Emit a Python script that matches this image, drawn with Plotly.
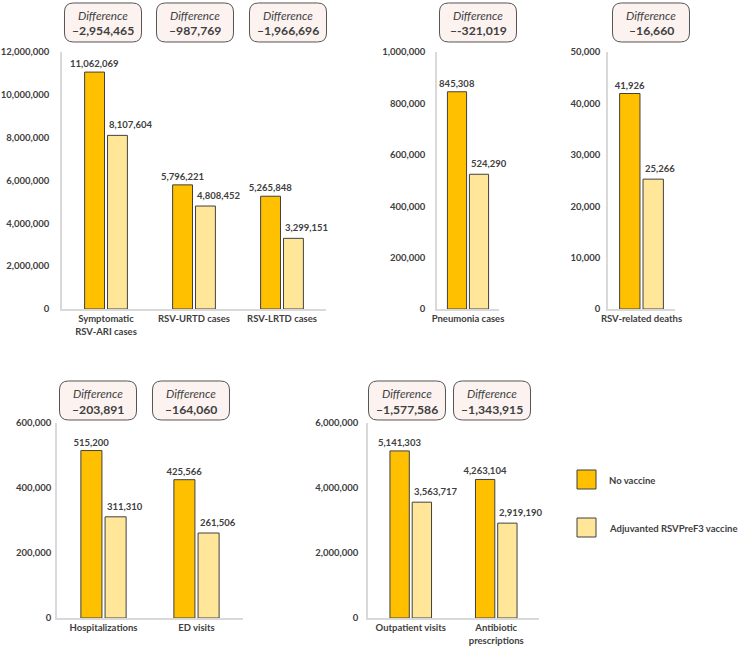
import plotly.graph_objects as go

# ---------------- data ----------------
series_names = ["No vaccine", "Adjuvanted RSVPreF3 vaccine"]

cat_a = ["Symptomatic<br>RSV-ARI cases", "RSV-URTD cases", "RSV-LRTD cases"]
novax_a = [11062069, 5796221, 5265848]
vax_a = [8107604, 4808452, 3299151]
diff_a = ["–2,954,465", "–987,769", "–1,966,696"]

cat_b = ["Pneumonia cases"]
novax_b = [845308]
vax_b = [524290]
diff_b = ["–-321,019"]

cat_c = ["RSV-related deaths"]
novax_c = [41926]
vax_c = [25266]
diff_c = ["–16,660"]

cat_d = ["Hospitalizations", "ED visits"]
novax_d = [515200, 425566]
vax_d = [311310, 261506]
diff_d = ["–203,891", "–164,060"]

cat_e = ["Outpatient visits", "Antibiotic<br>prescriptions"]
novax_e = [5141303, 4263104]
vax_e = [3563717, 2919190]
diff_e = ["–1,577,586", "–1,343,915"]

# ---------------- style ----------------
W, H = 746, 656
FONT = "Lato"
TXT = "#404040"
C_NO = "#FFC000"
C_VAX = "#FFE699"
EDGE = "#404040"
AXC = "#D9D9D9"
FS = 9.5


def X(px):
    return px / W


def Y(py):
    return 1 - py / H


panels = [
    # cats, novax, vax, diffs, xdomain px, ydomain px, xrange, yrange, dtick, box centers px, box top px, standoff
    (cat_a, novax_a, vax_a, diff_a, (62, 326), (52, 309), [-0.5, 2.5], [0, 12e6], 2e6, [103, 195, 288], 3, 9),
    (cat_b, novax_b, vax_b, diff_b, (437, 499), (52, 309), [-0.366, 0.366], [0, 1e6], 2e5, [478], 3, 8),
    (cat_c, novax_c, vax_c, diff_c, (608, 675), (52, 309), [-0.372, 0.372], [0, 5e4], 1e4, [651], 3, 4),
    (cat_d, novax_d, vax_d, diff_d, (57, 243), (423, 618), [-0.5, 1.5], [0, 6e5], 2e5, [98, 191], 381, 2),
    (cat_e, novax_e, vax_e, diff_e, (368, 539), (423, 618), [-0.5, 1.5], [0, 6e6], 2e6, [407, 492], 381, 6),
]

fig = go.Figure()
shapes = []
annotations = []


def rounded_box(cx, top, w=77, h=39, r=9):
    x0, x1 = cx - w / 2, cx + w / 2
    y0, y1 = top, top + h
    pts = [
        ("M", (x0 + r, y0)), ("L", (x1 - r, y0)), ("Q", (x1, y0), (x1, y0 + r)),
        ("L", (x1, y1 - r)), ("Q", (x1, y1), (x1 - r, y1)),
        ("L", (x0 + r, y1)), ("Q", (x0, y1), (x0, y1 - r)),
        ("L", (x0, y0 + r)), ("Q", (x0, y0), (x0 + r, y0)),
    ]
    parts = []
    for p in pts:
        cmd = p[0]
        coords = " ".join(f"{X(a):.5f},{Y(b):.5f}" for a, b in p[1:])
        parts.append(f"{cmd} {coords}")
    return " ".join(parts) + " Z"


layout_axes = {}
for i, (cats, nv, vx, diffs, xd, yd, xr, yr, dt, bx, btop, standoff) in enumerate(panels):
    n = "" if i == 0 else str(i + 1)
    xa, ya = "x" + n, "y" + n
    fig.add_trace(go.Bar(
        x=cats, y=nv, name=series_names[0], xaxis=xa, yaxis=ya,
        marker=dict(color=C_NO, line=dict(color=EDGE, width=1)),
        texttemplate="%{y:,}", textposition="outside", cliponaxis=False,
        constraintext="none",
        textfont=dict(family=FONT, size=FS, color=TXT, weight="bold"),
        showlegend=False,
    ))
    fig.add_trace(go.Bar(
        x=cats, y=vx, name=series_names[1], xaxis=xa, yaxis=ya,
        marker=dict(color=C_VAX, line=dict(color=EDGE, width=1)),
        showlegend=False,
    ))
    for c, v in zip(cats, vx):
        annotations.append(dict(
            x=c, y=v, xref=xa, yref=ya, text=f"{v:,}", showarrow=False,
            xanchor="left", yanchor="bottom", xshift=1, yshift=3,
            font=dict(family=FONT, size=FS, color=TXT, weight="bold"),
        ))
    layout_axes["xaxis" + n] = dict(
        domain=[X(xd[0]), X(xd[1])], anchor=ya, range=xr, type="category",
        showline=True, linecolor=AXC, linewidth=1.5, showgrid=False, zeroline=False,
        ticks="", tickfont=dict(family=FONT, size=FS, color=TXT, weight="bold"),
        fixedrange=True, automargin=False,
    )
    layout_axes["yaxis" + n] = dict(
        domain=[Y(yd[1]), Y(yd[0])], anchor=xa, range=yr, dtick=dt, tick0=0,
        tickformat=",d", showline=True, linecolor=AXC, linewidth=1.5,
        showgrid=False, zeroline=False, ticks="", ticklabelstandoff=standoff,
        tickfont=dict(family=FONT, size=FS, color=TXT, weight="bold"),
        fixedrange=True, automargin=False,
    )
    for cx, d in zip(bx, diffs):
        shapes.append(dict(
            type="path", xref="paper", yref="paper", path=rounded_box(cx, btop),
            fillcolor="#FCF3F0", line=dict(color="#555555", width=1), layer="above",
        ))
        annotations.append(dict(
            x=X(cx), y=Y(btop + 12), xref="paper", yref="paper", text="<i>Difference</i>",
            showarrow=False, xanchor="center", yanchor="middle",
            font=dict(family=FONT, size=11.7, color=TXT),
        ))
        annotations.append(dict(
            x=X(cx), y=Y(btop + 28), xref="paper", yref="paper", text=f"<b>{d}</b>",
            showarrow=False, xanchor="center", yanchor="middle",
            font=dict(family=FONT, size=12.2, color=TXT),
        ))

# manual legend
for (y0, col, name) in [(470, C_NO, series_names[0]), (518, C_VAX, series_names[1])]:
    shapes.append(dict(
        type="rect", xref="paper", yref="paper", x0=X(577), x1=X(596), y0=Y(y0 + 19), y1=Y(y0),
        fillcolor=col, line=dict(color=EDGE, width=1),
    ))
    annotations.append(dict(
        x=X(607), y=Y(y0 + 10), xref="paper", yref="paper", text=name, showarrow=False,
        xanchor="left", yanchor="middle",
        font=dict(family=FONT, size=FS, color=TXT, weight="bold"),
    ))

fig.update_layout(
    width=W, height=H, margin=dict(l=0, r=0, t=0, b=0, pad=0, autoexpand=False),
    paper_bgcolor="white", plot_bgcolor="white",
    barmode="group", bargap=0.48, bargroupgap=0.13,
    shapes=shapes, annotations=annotations, showlegend=False,
    font=dict(family=FONT, color=TXT),
    **layout_axes,
)

fig.write_html("out.html", config={"displayModeBar": False},
               post_script="document.body.style.margin='0';")
